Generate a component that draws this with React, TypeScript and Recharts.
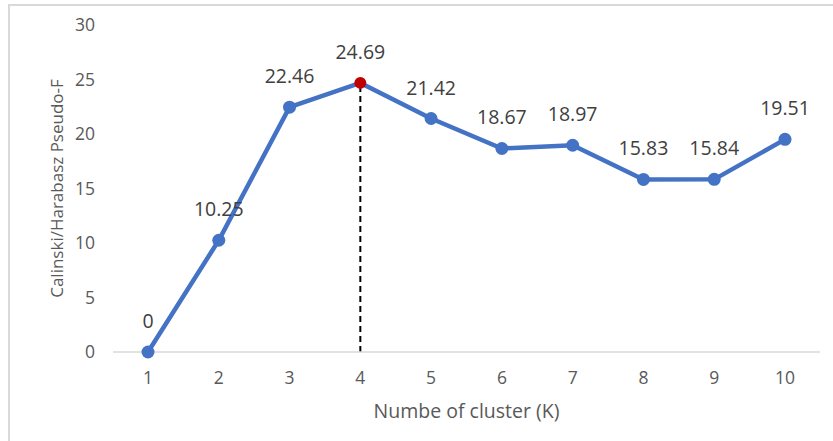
import { LineChart, Line, XAxis, YAxis, ReferenceLine, LabelList, Label } from 'recharts';

const clusters = [1, 2, 3, 4, 5, 6, 7, 8, 9, 10];
const pseudoF = [0, 10.25, 22.46, 24.69, 21.42, 18.67, 18.97, 15.83, 15.84, 19.51];
const yTicks = [0, 5, 10, 15, 20, 25, 30];
const bestK = 4;

const data = clusters.map((k, i) => ({ k, value: pseudoF[i] }));
const bestValue = pseudoF[clusters.indexOf(bestK)];

const FONT = '"Open Sans", sans-serif';
const BLUE = '#4472C4';

function renderDot(props: any) {
  const { cx, cy, index, payload } = props;
  const isBest = payload.k === bestK;
  return (
    <circle
      key={`dot-${index}`}
      cx={cx}
      cy={cy}
      r={isBest ? 6 : 6.5}
      fill={isBest ? '#C00000' : BLUE}
      stroke="none"
    />
  );
}

export default function App() {
  return (
    <div style={{ position: 'absolute', left: 0, top: 0, width: 833, height: 441, overflow: 'hidden', background: '#fff' }}>
      <div
        style={{
          position: 'absolute',
          left: 8,
          top: 4,
          width: 840,
          height: 450,
          borderLeft: '2px solid #d9d9d9',
          borderTop: '2px solid #d9d9d9',
        }}
      />
      <div style={{ position: 'absolute', left: 0, top: 0 }}>
        <LineChart width={833} height={441} data={data} margin={{ top: 25, right: 13, bottom: 9, left: 0 }}>
          <XAxis
            dataKey="k"
            type="category"
            height={80}
            padding={{ left: 35, right: 35 }}
            tickLine={false}
            tickSize={0}
            tickMargin={20}
            axisLine={{ stroke: '#d9d9d9', strokeWidth: 1.5 }}
            tick={{ fill: '#595959', fontSize: 17.5, fontFamily: FONT }}
          >
            <Label
              value="Numbe of cluster (K)"
              position="insideBottom"
              offset={14}
              style={{ fill: '#595959', fontSize: 19.5, fontFamily: FONT }}
            />
          </XAxis>
          <YAxis
            domain={[0, 30]}
            ticks={yTicks}
            width={113}
            axisLine={false}
            tickLine={false}
            tickSize={0}
            tickMargin={18}
            tick={{ fill: '#595959', fontSize: 17.5, fontFamily: FONT }}
          >
            <Label
              content={({ viewBox }: any) => {
                const cx = viewBox.x + 56;
                const cy = viewBox.y + viewBox.height / 2;
                return (
                  <text
                    x={cx}
                    y={cy}
                    transform={`rotate(-90 ${cx} ${cy})`}
                    textAnchor="middle"
                    dominantBaseline="central"
                    fill="#595959"
                    fontSize={17}
                    fontFamily={FONT}
                  >
                    Calinski/Harabasz Pseudo-F
                  </text>
                );
              }}
            />
          </YAxis>
          <ReferenceLine
            segment={[
              { x: bestK, y: 0 },
              { x: bestK, y: bestValue },
            ]}
            stroke="#000"
            strokeWidth={2}
            strokeDasharray="6 4"
          />
          <Line
            type="linear"
            dataKey="value"
            stroke={BLUE}
            strokeWidth={4.5}
            dot={renderDot}
            activeDot={false}
            isAnimationActive={false}
          >
            <LabelList
              dataKey="value"
              position="top"
              offset={24}
              style={{ fill: '#404040', fontSize: 19.5, fontFamily: FONT }}
            />
          </Line>
        </LineChart>
      </div>
    </div>
  );
}
